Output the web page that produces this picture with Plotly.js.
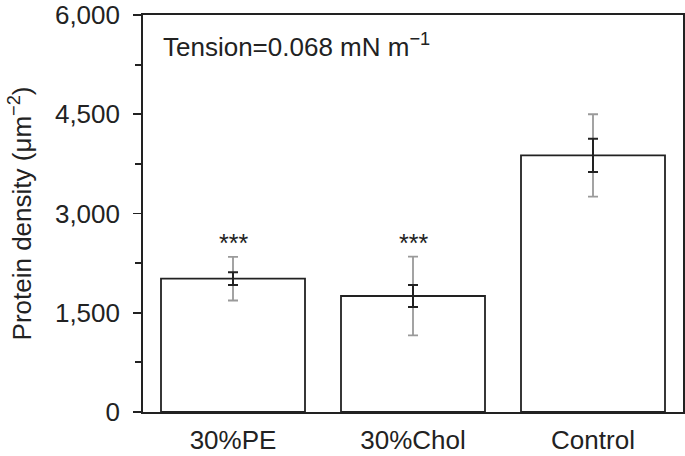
<!DOCTYPE html>
<html>
<head>
<meta charset="utf-8">
<script src="https://cdn.plot.ly/plotly-3.0.1.min.js"></script>
<style>html,body{margin:0;padding:0;background:#fff;}#chart{width:685px;height:456px;}</style>
</head>
<body>
<div id="chart"></div>
<script>
var categories = ['30%PE', '30%Chol', 'Control'];
var meanDensity = [2015, 1753, 3878];
var semValues = [96, 166, 252];
var sdValues = [330, 594, 622];
var significance = ['***', '***', ''];
var yTickValues = [0, 1500, 3000, 4500, 6000];

var ink = '#222222';
var fontFam = 'Liberation Sans, Arial, Helvetica, sans-serif';
var fs = 26;

var bars = {
  type: 'bar', x: categories, y: meanDensity,
  marker: {color: '#ffffff', line: {color: ink, width: 1.8}},
  hoverinfo: 'skip', showlegend: false
};
var sdTrace = {
  type: 'scatter', mode: 'markers', x: categories, y: meanDensity,
  marker: {size: 1, color: 'rgba(0,0,0,0)'},
  error_y: {type: 'data', array: sdValues, visible: true, color: '#9a9a9a', thickness: 1.8, width: 5},
  hoverinfo: 'skip', showlegend: false
};
var semTrace = {
  type: 'scatter', mode: 'markers', x: categories, y: meanDensity,
  marker: {size: 1, color: 'rgba(0,0,0,0)'},
  error_y: {type: 'data', array: semValues, visible: true, color: ink, thickness: 2, width: 5},
  hoverinfo: 'skip', showlegend: false
};

var annotations = [];
for (var i = 0; i < categories.length; i++) {
  if (significance[i]) {
    annotations.push({
      x: categories[i], y: meanDensity[i] + sdValues[i], xref: 'x', yref: 'y',
      text: significance[i], showarrow: false, yanchor: 'bottom', yshift: -2,
      font: {family: fontFam, size: 25, color: ink}
    });
  }
}
annotations.push({
  xref: 'paper', yref: 'paper', x: 0.033, y: 0.924, xanchor: 'left', yanchor: 'middle',
  text: 'Tension=0.068 mN m<sup>−1</sup>', showarrow: false,
  font: {family: fontFam, size: fs, color: ink}
});

var layout = {
  width: 685, height: 456,
  margin: {l: 143, r: 2, t: 15, b: 44},
  paper_bgcolor: '#ffffff', plot_bgcolor: '#ffffff',
  font: {family: fontFam, size: fs, color: ink},
  bargap: 0.2,
  xaxis: {
    showline: true, linecolor: ink, linewidth: 1.8, mirror: true,
    ticks: '', showgrid: false, zeroline: false,
    ticklabelstandoff: 4,
    tickfont: {family: fontFam, size: fs, color: ink}
  },
  yaxis: {
    range: [0, 6000], tickvals: yTickValues, tickformat: ',',
    showline: true, linecolor: ink, linewidth: 1.8, mirror: true,
    ticks: 'outside', ticklen: 8, tickwidth: 1.8, tickcolor: ink,
    minor: {dtick: 750, ticks: 'outside', ticklen: 6, tickwidth: 1.8, tickcolor: ink, showgrid: false},
    showgrid: false, zeroline: false,
    ticklabelstandoff: 8,
    tickfont: {family: fontFam, size: fs, color: ink},
    title: {text: 'Protein density (μm<sup>−2</sup>)', font: {family: fontFam, size: fs, color: ink}, standoff: 16}
  },
  annotations: annotations
};

Plotly.newPlot('chart', [bars, sdTrace, semTrace], layout, {displayModeBar: false, staticPlot: true});
</script>
</body>
</html>
